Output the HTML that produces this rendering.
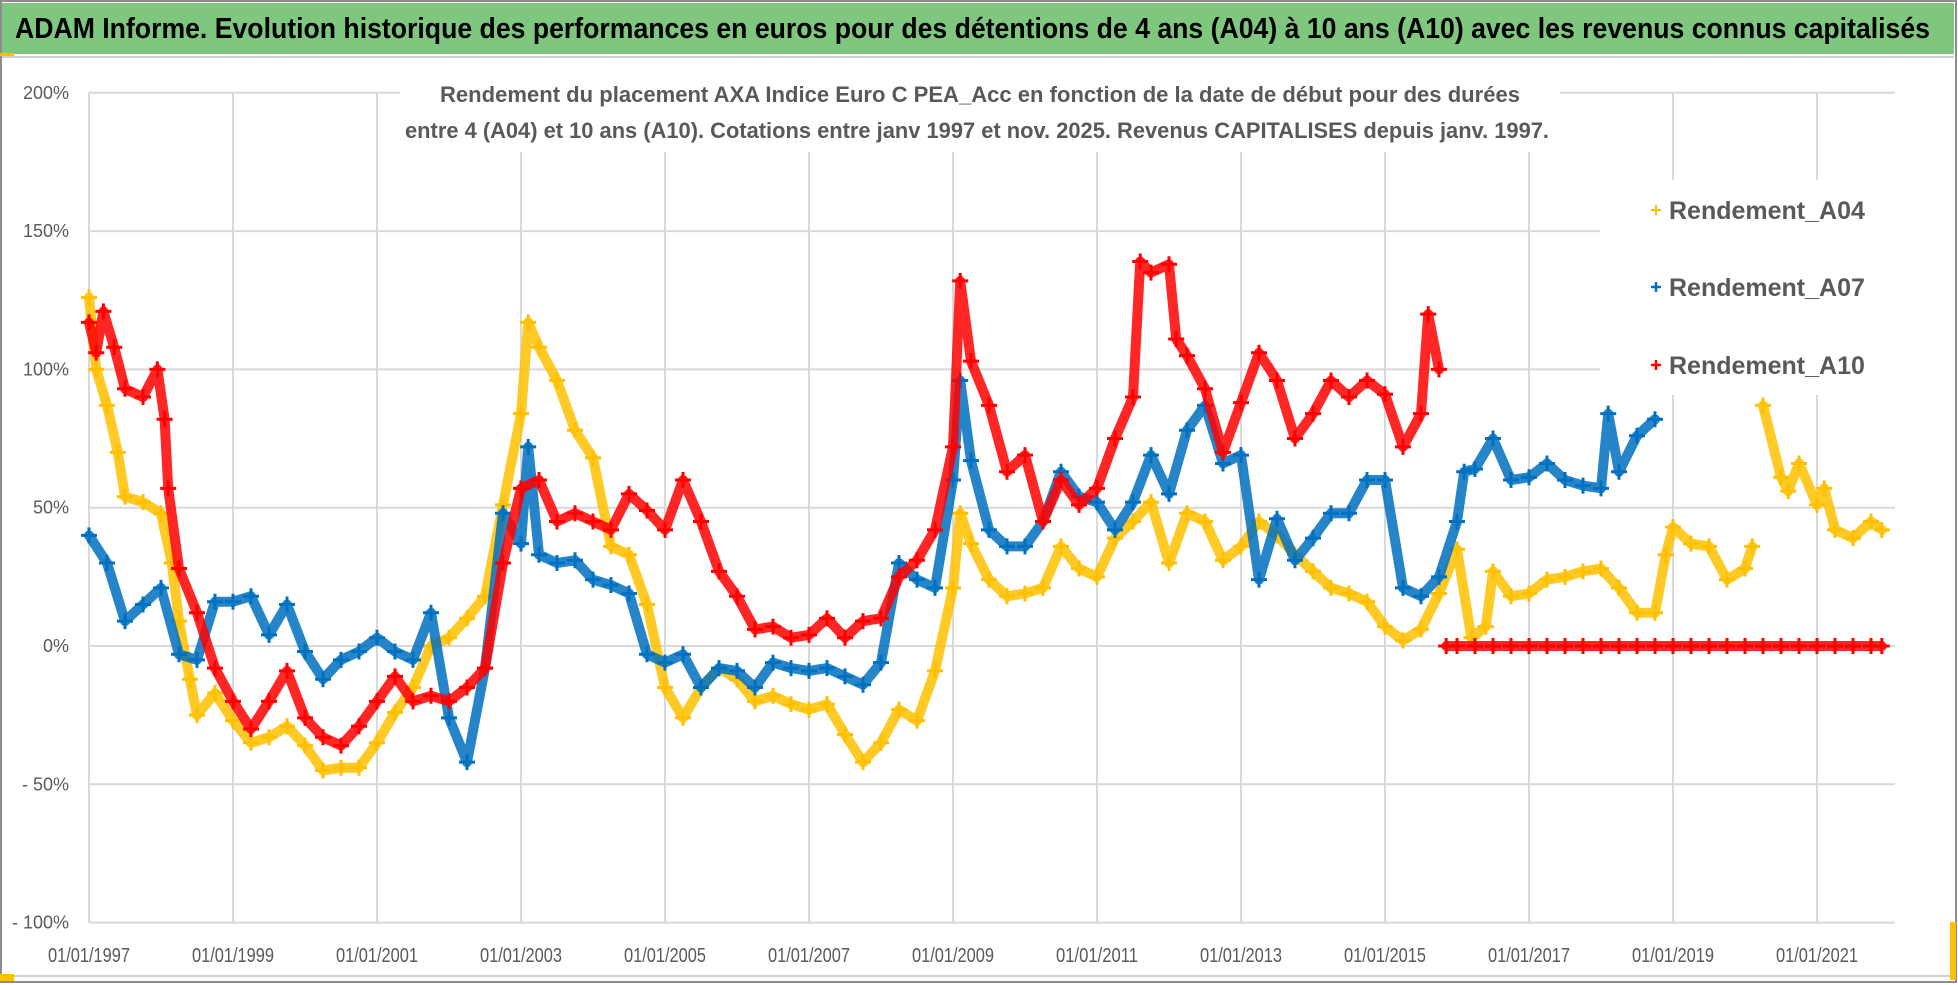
<!DOCTYPE html>
<html><head><meta charset="utf-8"><style>
html,body{margin:0;padding:0;background:#fff;}
svg{display:block;}
text{font-family:"Liberation Sans Narrow","Liberation Sans",sans-serif;}
</style></head><body>
<svg id="chart" width="1958" height="985" viewBox="0 0 1958 985" xmlns="http://www.w3.org/2000/svg">
<rect x="0" y="0" width="1958" height="985" fill="#fff"/>
<rect x="1" y="1" width="1955" height="981" fill="none" stroke="#8c8c8c" stroke-width="2"/>
<rect x="2" y="3" width="1952" height="51" fill="#7fc77f"/>
<line x1="2" y1="57" x2="1954" y2="57" stroke="#d0d0d0" stroke-width="2"/>
<line x1="2" y1="976" x2="1954" y2="976" stroke="#d0d0d0" stroke-width="2"/>
<rect x="0" y="53" width="14" height="3" fill="#ffc000"/>
<rect x="0" y="974" width="14" height="7" fill="#ffc000"/>
<rect x="1950" y="922" width="6" height="58" fill="#ffc000"/>
<text x="15" y="38" font-size="29" font-weight="bold" fill="#000" textLength="1915" lengthAdjust="spacingAndGlyphs">ADAM Informe. Evolution historique des performances en euros pour des détentions de 4 ans (A04) à 10 ans (A10) avec les revenus connus capitalisés</text>
<g id="grid"></g>
<g id="yaxis"></g>
<g id="xaxis"></g>
<rect x="400" y="76" width="1160" height="76" fill="#fff"/>
<text x="980" y="102" text-anchor="middle" font-size="22" font-weight="bold" fill="#595959" textLength="1080" lengthAdjust="spacingAndGlyphs">Rendement du placement AXA Indice Euro C PEA_Acc en fonction de la date de début pour des durées</text>
<text x="977" y="138" text-anchor="middle" font-size="22" font-weight="bold" fill="#595959" textLength="1144" lengthAdjust="spacingAndGlyphs">entre 4 (A04) et 10 ans (A10).  Cotations entre janv 1997 et nov. 2025. Revenus CAPITALISES depuis janv. 1997.</text>
<g id="series"></g>
<g>
<rect x="1600" y="180" width="295" height="215" fill="#fff"/>
<g>
<path d="M1651 210h10M1656 205v10" stroke="#ffc000" stroke-width="2"/>
<text x="1669" y="219" font-size="25" font-weight="bold" fill="#595959">Rendement_A04</text></g>
<g>
<path d="M1651 287h10M1656 282v10" stroke="#0070c0" stroke-width="2.5"/>
<text x="1669" y="296" font-size="25" font-weight="bold" fill="#595959">Rendement_A07</text></g>
<g>
<path d="M1651 365h10M1656 360v10" stroke="#ff0000" stroke-width="2.5"/>
<text x="1669" y="374" font-size="25" font-weight="bold" fill="#595959">Rendement_A10</text></g>
</g>
</svg>
<script>
const yTicks = [200, 150, 100, 50, 0, -50, -100];
const yTickLabels = ["200%", "150%", "100%", "50%", "0%", "- 50%", "- 100%"];
const xTickYears = [1997, 1999, 2001, 2003, 2005, 2007, 2009, 2011, 2013, 2015, 2017, 2019, 2021];
const xTickLabels = ["01/01/1997","01/01/1999","01/01/2001","01/01/2003","01/01/2005","01/01/2007","01/01/2009","01/01/2011","01/01/2013","01/01/2015","01/01/2017","01/01/2019","01/01/2021"];

const datesA04 = [1997.0,1997.1,1997.25,1997.4,1997.5,1997.75,1998.0,1998.15,1998.25,1998.4,1998.5,1998.75,1999.0,1999.25,1999.5,1999.75,2000.0,2000.25,2000.5,2000.75,2001.0,2001.25,2001.5,2001.75,2002.0,2002.25,2002.5,2002.75,2003.0,2003.1,2003.25,2003.5,2003.75,2004.0,2004.25,2004.5,2004.75,2005.0,2005.25,2005.5,2005.75,2006.0,2006.25,2006.5,2006.75,2007.0,2007.25,2007.5,2007.75,2008.0,2008.25,2008.5,2008.75,2009.0,2009.1,2009.25,2009.5,2009.75,2010.0,2010.25,2010.5,2010.75,2011.0,2011.25,2011.5,2011.75,2012.0,2012.25,2012.5,2012.75,2013.0,2013.25,2013.5,2013.75,2014.0,2014.25,2014.5,2014.75,2015.0,2015.25,2015.5,2015.75,2016.0,2016.2,2016.4,2016.5,2016.75,2017.0,2017.25,2017.5,2017.75,2018.0,2018.25,2018.5,2018.75,2018.9,2019.0,2019.25,2019.5,2019.75,2020.0,2020.1,2020.18,2020.25,2020.5,2020.6,2020.75,2021.0,2021.1,2021.25,2021.5,2021.75,2021.9];
const valuesA04 = [126,100,87,70,54,52,48,30,9,-12,-25,-17,-27,-35,-33,-29,-36,-45,-44,-44,-35,-24,-15,0,3,10,18,51,84,117,108,96,78,68,36,33,15,-15,-26,-15,-8,-12,-20,-18,-21,-23,-21,-32,-42,-35,-23,-27,-9,21,48,37,24,18,19,21,36,28,25,39,45,52,30,48,45,31,36,45,40,33,27,21,19,16,7,2,6,19,35,3,7,27,18,19,24,25,27,28,21,12,12,33,43,37,36,24,28,36,null,87,61,56,66,51,57,42,39,45,42];

const datesA07 = [1997.0,1997.25,1997.5,1997.75,1998.0,1998.25,1998.5,1998.75,1999.0,1999.25,1999.5,1999.75,2000.0,2000.25,2000.5,2000.75,2001.0,2001.25,2001.5,2001.75,2002.0,2002.25,2002.5,2002.75,2003.0,2003.1,2003.25,2003.5,2003.75,2004.0,2004.25,2004.5,2004.75,2005.0,2005.25,2005.5,2005.75,2006.0,2006.25,2006.5,2006.75,2007.0,2007.25,2007.5,2007.75,2008.0,2008.25,2008.5,2008.75,2009.0,2009.1,2009.25,2009.5,2009.75,2010.0,2010.25,2010.5,2010.75,2011.0,2011.25,2011.5,2011.75,2012.0,2012.25,2012.5,2012.75,2013.0,2013.25,2013.5,2013.75,2014.0,2014.25,2014.5,2014.75,2015.0,2015.25,2015.5,2015.75,2016.0,2016.1,2016.25,2016.5,2016.75,2017.0,2017.25,2017.5,2017.75,2018.0,2018.1,2018.25,2018.5,2018.75];
const valuesA07 = [40,30,9,15,21,-3,-5,16,16,18,4,15,-2,-12,-5,-2,3,-2,-5,12,-26,-42,-8,48,37,72,33,30,31,24,22,19,-3,-6,-3,-15,-8,-9,-15,-6,-8,-9,-8,-11,-14,-6,30,24,21,60,96,67,42,36,36,45,63,54,52,42,52,69,55,78,87,66,69,24,46,31,39,48,48,60,60,21,18,25,45,63,64,75,60,61,66,60,58,57,84,63,76,82];

const datesA10 = [1997.0,1997.1,1997.2,1997.35,1997.5,1997.75,1997.95,1998.05,1998.1,1998.25,1998.5,1998.75,1999.0,1999.25,1999.5,1999.75,2000.0,2000.25,2000.5,2000.75,2001.0,2001.25,2001.5,2001.75,2002.0,2002.25,2002.5,2002.75,2003.0,2003.25,2003.5,2003.75,2004.0,2004.25,2004.5,2004.75,2005.0,2005.25,2005.5,2005.75,2006.0,2006.25,2006.5,2006.75,2007.0,2007.25,2007.5,2007.75,2008.0,2008.25,2008.5,2008.75,2009.0,2009.1,2009.25,2009.5,2009.75,2010.0,2010.25,2010.5,2010.75,2011.0,2011.25,2011.5,2011.6,2011.75,2012.0,2012.1,2012.25,2012.5,2012.75,2013.0,2013.25,2013.5,2013.75,2014.0,2014.25,2014.5,2014.75,2015.0,2015.25,2015.5,2015.6,2015.75,2015.8,2015.85,2016.0,2016.25,2016.5,2016.75,2017.0,2017.25,2017.5,2017.75,2018.0,2018.25,2018.5,2018.75,2019.0,2019.25,2019.5,2019.75,2020.0,2020.25,2020.5,2020.75,2021.0,2021.25,2021.5,2021.75,2021.9];
const valuesA10 = [117,106,121,108,93,90,100,82,57,28,12,-8,-20,-30,-20,-9,-26,-33,-36,-29,-20,-11,-20,-18,-20,-15,-8,30,57,60,45,48,45,42,55,49,42,60,45,27,18,6,7,3,4,10,3,9,10,25,31,42,72,132,103,87,63,69,45,60,51,57,75,90,139,135,138,111,105,93,70,88,106,96,75,84,96,90,96,91,72,84,120,100,null,0,0,0,0,0,0,0,0,0,0,0,0,0,0,0,0,0,0,0,0,0,0,0,0,0,0];

const X0 = 89, PX_PER_YEAR = 72, Y0 = 646, PX_PER_PCT = 2.766, XR = 1895;
function xs(year){ return X0 + (year - 1997) * PX_PER_YEAR; }
function ys(v){ return Y0 - v * PX_PER_PCT; }
const NS = "http://www.w3.org/2000/svg";
function mk(tag, attrs, parent){ const e = document.createElementNS(NS, tag); for (const k in attrs) e.setAttribute(k, attrs[k]); parent.appendChild(e); return e; }

const grid = document.getElementById('grid');
const yaxis = document.getElementById('yaxis');
const xaxis = document.getElementById('xaxis');
yTicks.forEach((t, i) => {
  const l = mk('line', {x1: X0, x2: XR, y1: ys(t), y2: ys(t), stroke: '#d9d9d9', 'stroke-width': 2}, grid);
  
  
  const tx = mk('text', {x: 69, y: ys(t) + 6, 'text-anchor': 'end', 'font-size': 18, fill: '#595959'}, yaxis);
  tx.textContent = yTickLabels[i];
  
  
});
xTickYears.forEach((yr, i) => {
  const l = mk('line', {x1: xs(yr), x2: xs(yr), y1: ys(200), y2: ys(-100), stroke: '#d9d9d9', 'stroke-width': 2}, grid);
  
  
  const tx = mk('text', {x: xs(yr), y: 962, 'text-anchor': 'middle', 'font-size': 20, fill: '#595959', textLength: 82, lengthAdjust: 'spacingAndGlyphs'}, xaxis);
  tx.textContent = xTickLabels[i];
  
  
});

const seriesLayer = document.getElementById('series');
function drawSeries(dates, values, color, name){
  const g = mk('g', {}, seriesLayer);
  
  
  let segs = [], cur = [];
  dates.forEach((d, i) => {
    const v = values[i];
    if (v === null || v === undefined) { if (cur.length) segs.push(cur); cur = []; return; }
    cur.push([xs(d), ys(v)]);
  });
  if (cur.length) segs.push(cur);
  segs.forEach(s => {
    const p = mk('polyline', {points: s.map(q => q[0].toFixed(1) + ',' + q[1].toFixed(1)).join(' '), fill: 'none', stroke: color, 'stroke-width': 10, 'stroke-linejoin': 'round', 'stroke-linecap': 'round', opacity: 0.85}, g);
    
    
  });
  dates.forEach((d, i) => {
    const v = values[i];
    if (v === null || v === undefined) return;
    const x = xs(d), y = ys(v);
    const m = mk('path', {d: `M${x-8} ${y}h16M${x} ${y-8}v16`, stroke: color, 'stroke-width': 3}, g);
    
    
  });
}
drawSeries(datesA04, valuesA04, '#ffc000', 'series-a04');
drawSeries(datesA07, valuesA07, '#0070c0', 'series-a07');
drawSeries(datesA10, valuesA10, '#ff0000', 'series-a10');
</script>
</body></html>
